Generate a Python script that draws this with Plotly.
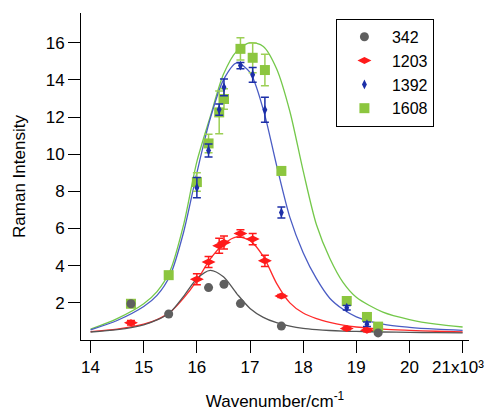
import plotly.graph_objects as go

# Excitation wavenumbers (x10^3 cm^-1) of the measured points
X_EXC = [14.76, 15.47, 16.00, 16.22, 16.42, 16.51, 16.82, 17.05, 17.28, 17.59, 18.82, 19.20, 19.41]

# Measured Raman intensities (None = no point)
Y_342 = [1.95, 1.40, None, 2.82, None, 3.00, 1.96, None, None, 0.75, None, None, 0.38]
E_342 = [0, 0, 0, 0, 0, 0, 0, 0, 0, 0, 0, 0, 0]

Y_1203 = [0.93, None, 3.27, 4.20, 5.07, 5.25, 5.73, 5.43, 4.26, 2.37, 0.62, 0.52, None]
E_1203 = [0.12, 0, 0.30, 0.30, 0.40, 0.35, 0.20, 0.30, 0.30, 0.08, 0.08, 0.08, 0]

Y_1392 = [None, None, 8.20, 10.2, 12.4, 13.6, 14.77, 14.27, 12.39, 6.86, 1.74, 0.85, None]
E_1392 = [0, 0, 0.55, 0.35, 0.30, 0.45, 0.17, 0.40, 0.67, 0.30, 0.12, 0.12, 0]

Y_1608 = [1.95, 3.49, 8.50, 10.58, 12.25, 12.97, 15.67, 15.19, 14.53, 9.10, 2.10, 1.24, 0.72]
E_1608 = [0, 0, 0.50, 0.50, 1.15, 0.55, 0.60, 0.80, 0.85, 0.20, 0.10, 0, 0]

# Fitted excitation profiles
CURVE_X = [14.0, 14.5, 15.0, 15.25, 15.5, 15.75, 16.0, 16.25, 16.5, 16.75, 17.0, 17.25,
           17.5, 17.75, 18.0, 18.25, 18.5, 18.75, 19.0, 19.5, 20.0, 20.5, 21.0]
FIT_342 = [0.43, 0.56, 0.82, 1.08, 1.50, 2.35, 3.30, 3.75, 3.40, 2.50, 1.70, 1.22,
           0.93, 0.75, 0.63, 0.56, 0.51, 0.48, 0.46, 0.43, 0.41, 0.40, 0.38]
FIT_1203 = [0.45, 0.58, 0.85, 1.10, 1.50, 2.25, 3.20, 4.35, 5.15, 5.55, 5.35, 4.50,
            3.05, 2.00, 1.45, 1.15, 0.95, 0.80, 0.70, 0.58, 0.52, 0.47, 0.43]
FIT_1392 = [0.55, 1.05, 1.80, 2.40, 3.50, 5.80, 9.00, 11.90, 14.00, 14.92, 14.40, 12.40,
            9.40, 6.60, 4.70, 3.30, 2.25, 1.65, 1.25, 0.85, 0.68, 0.58, 0.52]
FIT_1608 = [0.58, 1.15, 1.95, 2.60, 3.75, 6.20, 9.60, 12.00, 14.30, 15.55, 16.00, 15.80,
            14.60, 12.30, 9.10, 6.20, 4.40, 3.10, 2.30, 1.50, 1.10, 0.85, 0.70]

X_TICKS = [14, 15, 16, 17, 18, 19, 20, 21]
X_TICK_TEXT = ["14", "15", "16", "17", "18", "19", "20", ""]
LAST_TICK_LABEL = "21x10³"
Y_TICKS = [2, 4, 6, 8, 10, 12, 14, 16]

NAMES = ["342", "1203", "1392", "1608"]
COL_MARK = {"342": "#5f5f5f", "1203": "#ff1a1a", "1392": "#1c2fa8", "1608": "#8cc63f"}
COL_LINE = {"342": "#555555", "1203": "#ff2a2a", "1392": "#4a5cc4", "1608": "#74c84a"}
SYMBOL = {"342": "circle", "1203": "diamond-wide", "1392": "diamond-tall", "1608": "square"}
MSIZE = {"342": 9, "1203": 10, "1392": 7, "1608": 10}

DATA = {"342": (Y_342, E_342, FIT_342), "1203": (Y_1203, E_1203, FIT_1203),
        "1392": (Y_1392, E_1392, FIT_1392), "1608": (Y_1608, E_1608, FIT_1608)}

fig = go.Figure()

# draw order: green at bottom, gray on top
for nm in ["1608", "1392", "1203", "342"]:
    ys, es, fit = DATA[nm]
    fig.add_trace(go.Scatter(x=CURVE_X, y=fit, mode="lines", showlegend=False,
                             line=dict(color=COL_LINE[nm], width=1.3, shape="spline", smoothing=0.8),
                             hoverinfo="skip"))
for nm in ["1608", "1392", "1203", "342"]:
    ys, es, fit = DATA[nm]
    fig.add_trace(go.Scatter(x=X_EXC, y=ys, mode="markers", name=nm,
                             marker=dict(color=COL_MARK[nm], symbol=SYMBOL[nm], size=MSIZE[nm],
                                         line=dict(width=0)),
                             error_y=dict(type="data", array=es, visible=True,
                                          color=COL_MARK[nm] if nm != "1608" else "#9ccf55",
                                          thickness=1.5, width=4)))

# last tick label (with the x10^3 multiplier), nudged left as in the original
fig.add_annotation(x=X_TICKS[-1], xref="x", y=0, yref="paper", text=LAST_TICK_LABEL,
                   showarrow=False, xanchor="center", yanchor="middle", yshift=-27, xshift=-5,
                   font=dict(size=17, color="black"))

font_family = "Liberation Sans, Arial, sans-serif"
fig.update_layout(
    width=485, height=403,
    margin=dict(l=73, r=24, t=5, b=71),
    paper_bgcolor="white", plot_bgcolor="white",
    font=dict(family=font_family, size=17, color="black"),
    legend=dict(x=0.657, y=0.982, xanchor="left", yanchor="top",
                bordercolor="black", borderwidth=1, bgcolor="white",
                traceorder="reversed", font=dict(size=16), itemwidth=45,
                tracegroupgap=0),
    xaxis=dict(range=[13.82, 21.12], tickvals=X_TICKS, ticktext=X_TICK_TEXT,
               ticks="outside", ticklen=12, tickwidth=1, tickcolor="black",
               showline=True, linecolor="black", linewidth=1, showgrid=False, zeroline=False,
               automargin=False,
               title=dict(text="Wavenumber/cm<sup>-1</sup>", standoff=23,
                          font=dict(size=17))),
    yaxis=dict(range=[0, 17.6], tickvals=Y_TICKS, ticks="outside", ticklen=12, tickwidth=1,
               tickcolor="black", showline=True, linecolor="black", linewidth=1,
               showgrid=False, zeroline=False, automargin=False,
               title=dict(text="Raman Intensity", standoff=15, font=dict(size=17))),
)

fig.write_html("out.html")
